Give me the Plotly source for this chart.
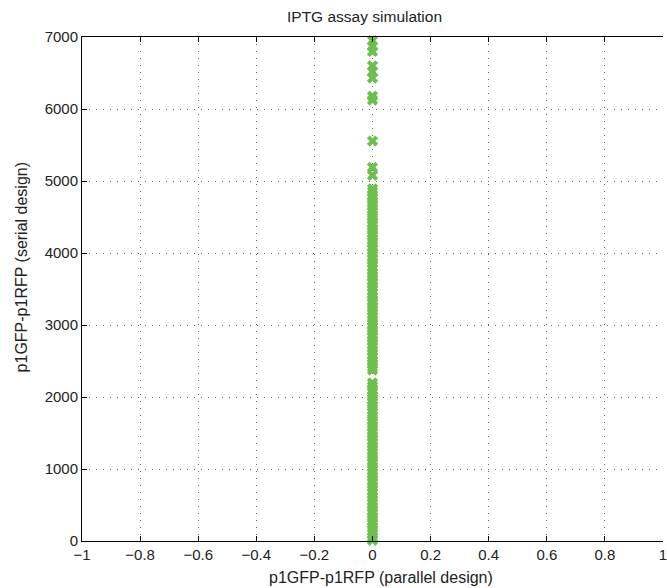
import plotly.graph_objects as go

# Serial-design values (y), all plotted at parallel-design value 0 (x)
serial_design = [
    6950, 6870, 6800, 6600, 6520, 6430, 6180, 6125, 5555, 5190, 5080, 4890,
    4850, 4800, 4760, 4710, 4660, 4610, 4570, 4520, 4470, 4420, 4380, 4330,
    4280, 4240, 4190, 4140, 4090, 4050, 4000, 3950, 3910, 3860, 3810, 3770,
    3720, 3670, 3620, 3580, 3530, 3480, 3440, 3390, 3340, 3300, 3250, 3200,
    3150, 3110, 3060, 3010, 2970, 2920, 2870, 2830, 2780, 2730, 2690, 2640,
    2590, 2550, 2500, 2450, 2410, 2375,
    2195, 2150, 2100, 2060, 2010, 1960, 1920, 1870, 1820, 1780, 1730, 1680,
    1640, 1590, 1540, 1500, 1450, 1400, 1360, 1310, 1260, 1220, 1170, 1120,
    1080, 1030, 980, 940, 890, 840, 800, 750, 700, 660, 610, 560, 520, 470,
    420, 380, 330, 280, 240, 190, 140, 100, 50, 10,
]
parallel_design = [0] * len(serial_design)

x_ticks = [-1, -0.8, -0.6, -0.4, -0.2, 0, 0.2, 0.4, 0.6, 0.8, 1]
x_tick_labels = ["−1", "−0.8", "−0.6", "−0.4", "−0.2", "0", "0.2", "0.4", "0.6", "0.8", "1"]
y_ticks = [0, 1000, 2000, 3000, 4000, 5000, 6000, 7000]

TITLE = "IPTG assay simulation"
X_TITLE = "p1GFP-p1RFP (parallel design)"
Y_TITLE = "p1GFP-p1RFP (serial design)"

FONT = "Liberation Sans"
GREEN = "#6cbf4e"
TEXT = "#222222"

W, H = 667, 588
L, R, T, B = 82, 0, 37, 47
PW, PH = W - L - R, H - T - B


def px_x(p):
    return (p - L) / PW


def px_y(p):
    return (H - B - p) / PH


fig = go.Figure()
fig.add_trace(go.Scatter(
    x=parallel_design, y=serial_design, mode="markers",
    marker=dict(symbol="x", size=10, color=GREEN, line=dict(width=0)),
    cliponaxis=False, showlegend=False,
))

axis_common = dict(
    showline=True, linecolor="black", linewidth=1,
    ticks="inside", ticklen=5, tickcolor="black",
    showgrid=True, gridcolor="#666666", griddash="1px,6px", gridwidth=1,
    zeroline=False, ticklabeloverflow="allow",
    tickfont=dict(family=FONT, size=15, color=TEXT),
)

fig.update_layout(
    width=W, height=H,
    margin=dict(l=L, r=R, t=T, b=B),
    paper_bgcolor="white", plot_bgcolor="white",
    xaxis=dict(range=[-1, 1], tickvals=x_ticks, ticktext=x_tick_labels,
               mirror="ticks", **axis_common),
    yaxis=dict(range=[0, 7000], tickvals=y_ticks, mirror=False, **axis_common),
    annotations=[
        dict(text=TITLE, xref="paper", yref="paper", x=px_x(366), y=px_y(17),
             xanchor="center", yanchor="middle", showarrow=False,
             font=dict(family=FONT, size=15.5, color=TEXT)),
        dict(text=X_TITLE, xref="paper", yref="paper", x=px_x(383), y=px_y(577),
             xanchor="center", yanchor="middle", showarrow=False,
             font=dict(family=FONT, size=16, color=TEXT)),
        dict(text=Y_TITLE, xref="paper", yref="paper", x=px_x(21), y=px_y(267),
             xanchor="center", yanchor="middle", showarrow=False, textangle=-90,
             font=dict(family=FONT, size=16, color=TEXT)),
    ],
)

fig.write_html(
    "out.html",
    config={"displayModeBar": False},
    post_script="document.body.style.margin='0';document.body.style.overflow='hidden';",
)
